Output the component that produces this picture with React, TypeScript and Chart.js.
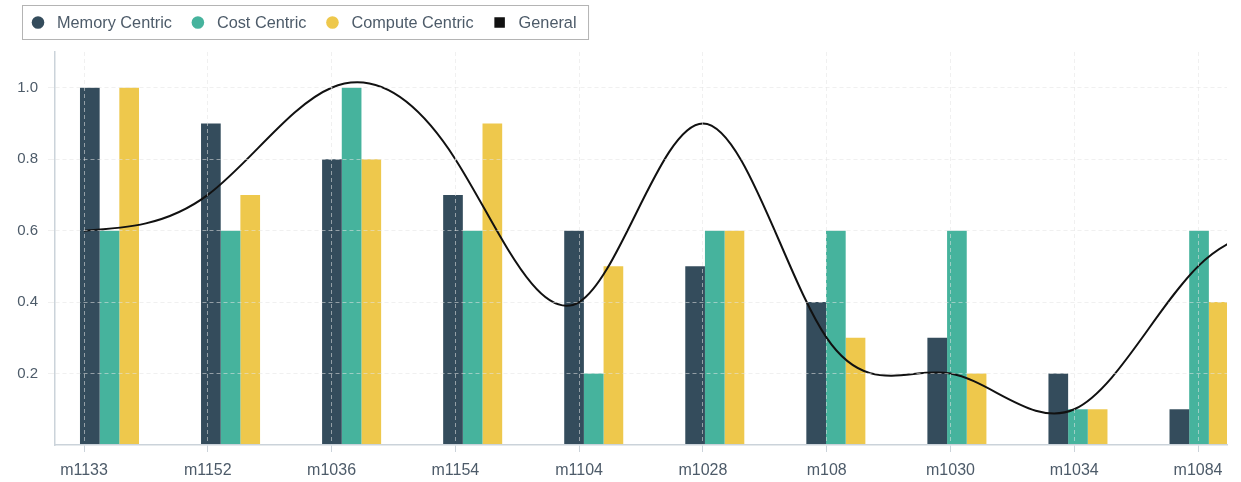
import React, { useEffect, useRef } from 'react';
import { Chart, registerables } from 'chart.js';

Chart.register(...registerables);

const categories = ['m1133', 'm1152', 'm1036', 'm1154', 'm1104', 'm1028', 'm108', 'm1030', 'm1034', 'm1084'];
const memoryCentric = [1.0, 0.9, 0.8, 0.7, 0.6, 0.5, 0.4, 0.3, 0.2, 0.1];
const costCentric = [0.6, 0.6, 1.0, 0.6, 0.2, 0.6, 0.6, 0.6, 0.1, 0.6];
const computeCentric = [1.0, 0.7, 0.8, 0.9, 0.5, 0.6, 0.3, 0.2, 0.1, 0.4];
// General curve: the last value lies past the final category and is cut off at the plot edge
const general = [0.6, 0.7, 1.0, 0.8, 0.4, 0.9, 0.3, 0.2, 0.1, 0.5, 0.6];
const yTicks = [0.2, 0.4, 0.6, 0.8, 1.0];
const seriesNames = ['Memory Centric', 'Cost Centric', 'Compute Centric', 'General'];

const COLORS = ['#344c5c', '#46b39d', '#eec84c', '#111111'];
const FONT = '"Liberation Sans", Arial, Helvetica, sans-serif';
const TEXT = '#4d5b69';
const GRID = 'rgba(228,228,228,0.55)';
const AXIS = '#cbd3da';

// Draw the line as a natural cubic spline (Chart.js draws the bezier path; this only sets its control points)
const naturalSpline = {
  id: 'naturalSpline',
  beforeDatasetDraw(chart: any, args: any) {
    const meta = args.meta;
    if (meta.type !== 'line') return;
    meta.dataset.updateControlPoints(chart.chartArea, 'x');
    const pts = meta.data;
    const n = pts.length;
    if (n < 3) return;
    const xs = pts.map((p: any) => p.x);
    const ys = pts.map((p: any) => p.y);
    const h: number[] = [];
    for (let i = 0; i < n - 1; i++) h.push(xs[i + 1] - xs[i]);
    const M = new Array(n).fill(0);
    const cp: number[] = new Array(n).fill(0);
    const dp: number[] = new Array(n).fill(0);
    for (let i = 1; i < n - 1; i++) {
      const a = h[i - 1];
      const b = 2 * (h[i - 1] + h[i]);
      const c = h[i];
      const r = 6 * ((ys[i + 1] - ys[i]) / h[i] - (ys[i] - ys[i - 1]) / h[i - 1]);
      const den = b - a * cp[i - 1];
      cp[i] = c / den;
      dp[i] = (r - a * dp[i - 1]) / den;
    }
    for (let i = n - 2; i >= 1; i--) M[i] = dp[i] - cp[i] * M[i + 1];
    const slope = (i: number) =>
      i < n - 1
        ? (ys[i + 1] - ys[i]) / h[i] - (h[i] * (2 * M[i] + M[i + 1])) / 6
        : (ys[i] - ys[i - 1]) / h[i - 1] + (h[i - 1] * (M[i - 1] + 2 * M[i])) / 6;
    for (let i = 0; i < n; i++) {
      const m = slope(i);
      const hb = i > 0 ? h[i - 1] : h[0];
      const ha = i < n - 1 ? h[i] : h[n - 2];
      pts[i].cp1x = xs[i] - hb / 3;
      pts[i].cp1y = ys[i] - (m * hb) / 3;
      pts[i].cp2x = xs[i] + ha / 3;
      pts[i].cp2y = ys[i] + (m * ha) / 3;
    }
  },
};

const boxLegend = {
  id: 'boxLegend',
  afterDraw(chart: any) {
    const ctx = chart.ctx as CanvasRenderingContext2D;
    ctx.save();
    ctx.font = '16.3px ' + FONT;
    ctx.textBaseline = 'alphabetic';
    ctx.textAlign = 'left';
    const cy = 22.5;
    let cx = 38;
    let lastEnd = 0;
    seriesNames.forEach((name, i) => {
      ctx.fillStyle = COLORS[i];
      if (i < 3) {
        ctx.beginPath();
        ctx.arc(cx, cy, 6.3, 0, Math.PI * 2);
        ctx.fill();
      } else {
        ctx.fillRect(cx - 5.25, cy - 5.25, 10.5, 10.5);
      }
      const tx = cx + 19;
      ctx.fillStyle = TEXT;
      ctx.fillText(name, tx, 28);
      lastEnd = tx + ctx.measureText(name).width;
      cx = lastEnd + 26;
    });
    ctx.strokeStyle = '#b4b4b4';
    ctx.lineWidth = 1;
    ctx.strokeRect(22.5, 5.5, lastEnd + 12 - 22.5, 34);
    ctx.restore();
  },
};

export default function App() {
  const ref = useRef<HTMLCanvasElement | null>(null);

  useEffect(() => {
    if (!ref.current) return;
    const barDs = (label: string, vals: number[], color: string) => ({
      type: 'bar' as const,
      label,
      data: vals.map((v, i) => ({ x: i, y: v })),
      xAxisID: 'xBar',
      yAxisID: 'y',
      backgroundColor: color,
      borderWidth: 0,
      // Chart.js reserves bar slots for both x axes in use (6 slots): the 3 bars fill slots 1-3
      categoryPercentage: 0.9752,
      barPercentage: 1,
      order: 1,
    });
    const chart = new Chart(ref.current, {
      type: 'bar',
      data: {
        datasets: [
          {
            type: 'line' as const,
            label: seriesNames[3],
            data: general.map((v, i) => ({ x: i, y: v })),
            xAxisID: 'x',
            yAxisID: 'y',
            borderColor: COLORS[3],
            borderWidth: 2,
            tension: 0.4,
            pointRadius: 0,
            fill: false,
            order: 0,
          } as any,
          barDs(seriesNames[0], memoryCentric, COLORS[0]),
          barDs(seriesNames[1], costCentric, COLORS[1]),
          barDs(seriesNames[2], computeCentric, COLORS[2]),
        ],
      },
      options: {
        animation: false,
        responsive: true,
        maintainAspectRatio: false,
        devicePixelRatio: 1,
        layout: { padding: { top: 52, right: 14, bottom: 0, left: 0 } },
        plugins: { legend: { display: false }, tooltip: { enabled: false } },
        scales: {
          x: {
            type: 'linear',
            position: 'bottom',
            bounds: 'data',
            min: -0.2343,
            max: 9.234,
            offset: false,
            afterBuildTicks: (scale: any) => {
              scale.ticks = categories.map((_, i) => ({ value: i }));
            },
            afterFit: (scale: any) => {
              scale.height = 37;
            },
            ticks: {
              autoSkip: false,
              maxRotation: 0,
              padding: 9,
              color: TEXT,
              font: { family: FONT, size: 16 },
              callback: (v: any) => categories[Math.round(Number(v))] ?? '',
            },
            grid: { offset: false, color: GRID, z: 1, tickLength: 7, tickColor: AXIS, tickBorderDash: [] },
            border: { display: true, color: AXIS, width: 1.5, dash: [4, 3], z: 1 },
          },
          xBar: {
            type: 'linear',
            position: 'bottom',
            display: false,
            bounds: 'data',
            min: -0.5314,
            max: 9.1498,
            offset: false,
            afterBuildTicks: (scale: any) => {
              scale.ticks = categories.map((_, i) => ({ value: i }));
            },
            grid: { offset: false },
          },
          y: {
            type: 'linear',
            min: 0,
            max: 1.1,
            afterBuildTicks: (scale: any) => {
              scale.ticks = yTicks.map((v) => ({ value: v }));
            },
            afterFit: (scale: any) => {
              scale.width = 55;
            },
            ticks: { padding: 10, color: TEXT, font: { family: FONT, size: 15 }, callback: (v: any) => Number(v).toFixed(1) },
            grid: { color: GRID, z: 1, tickLength: 7, tickColor: GRID },
            border: { display: true, color: AXIS, width: 1.5, dash: [4, 3], z: 1 },
          },
        },
      } as any,
      plugins: [naturalSpline, boxLegend],
    });
    return () => chart.destroy();
  }, []);

  return (
    <div style={{ position: 'absolute', left: 0, top: 0, width: '1241px', height: '482px', background: '#fff' }}>
      <canvas ref={ref} />
    </div>
  );
}
